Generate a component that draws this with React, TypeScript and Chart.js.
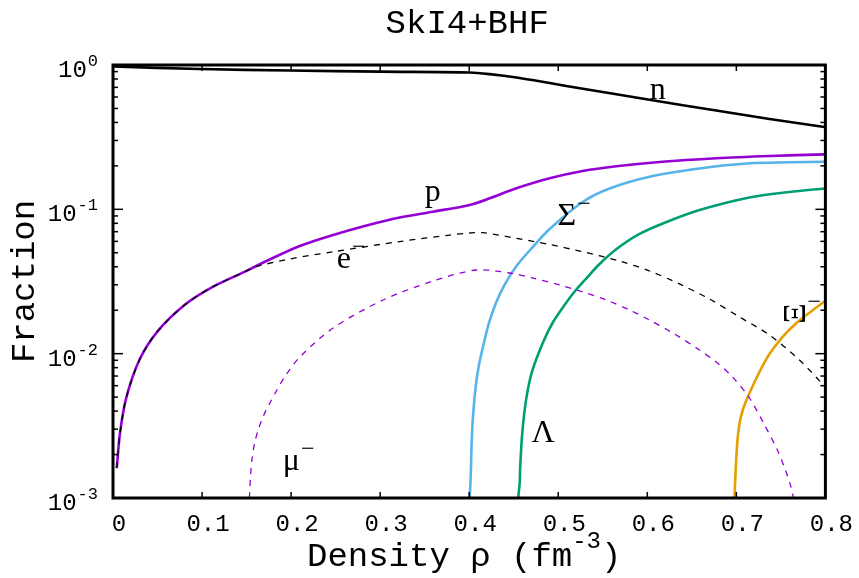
import React, { useEffect, useRef } from 'react';
import { Chart, registerables } from 'chart.js';

Chart.register(...registerables);

// ---- data (density rho in fm^-3, particle fraction) ----
const nRho = [0, 0.0976, 0.1986, 0.2996, 0.4006, 0.423, 0.453, 0.4903, 0.5277, 0.5652, 0.6025, 0.6774, 0.7372, 0.7989];
const nFrac = [0.976, 0.938, 0.916, 0.899, 0.887, 0.864, 0.819, 0.75, 0.684, 0.627, 0.574, 0.484, 0.4225, 0.3718];

const pRho = [0.0042, 0.008, 0.015, 0.03, 0.05, 0.08, 0.11, 0.15, 0.1574, 0.1818, 0.2098, 0.2435, 0.2847, 0.322, 0.3594, 0.4006, 0.423, 0.453, 0.4903, 0.5274, 0.5652, 0.6137, 0.6774, 0.7372, 0.7989];
const pFrac = [0.00161, 0.00286, 0.00498, 0.00914, 0.01428, 0.02167, 0.0286, 0.03743, 0.03953, 0.04673, 0.05568, 0.06537, 0.07727, 0.08778, 0.09632, 0.1072, 0.1192, 0.1399, 0.1641, 0.1844, 0.199, 0.2129, 0.2259, 0.2342, 0.2405];

const eRho = [0.0042, 0.008, 0.015, 0.03, 0.05, 0.08, 0.11, 0.15, 0.1612, 0.1986, 0.2472, 0.322, 0.3781, 0.4006, 0.4155, 0.453, 0.4903, 0.5277, 0.5689, 0.6025, 0.6362, 0.6698, 0.7035, 0.7372, 0.7708, 0.8];
const eFrac = [0.00161, 0.00286, 0.00498, 0.00914, 0.01428, 0.02167, 0.0286, 0.03743, 0.04018, 0.04529, 0.05081, 0.0598, 0.06637, 0.06855, 0.06888, 0.06298, 0.05703, 0.05081, 0.04382, 0.0374, 0.03041, 0.02392, 0.01795, 0.01347, 0.00904, 0.00587];

const muRho = [0.1532, 0.1543, 0.156, 0.1593, 0.1638, 0.1694, 0.1762, 0.184, 0.1941, 0.2098, 0.2472, 0.3033, 0.3594, 0.4081, 0.4454, 0.4716, 0.5015, 0.5277, 0.5539, 0.5801, 0.6025, 0.6306, 0.6586, 0.6774, 0.6957, 0.7147, 0.7316, 0.7461, 0.7551, 0.7607, 0.7641];
const muFrac = [0.001, 0.001376, 0.001833, 0.002443, 0.003055, 0.003758, 0.00455, 0.0056, 0.00711, 0.00948, 0.01507, 0.02355, 0.03188, 0.038, 0.03622, 0.03343, 0.02991, 0.02675, 0.02355, 0.02006, 0.01709, 0.01368, 0.0106, 0.00875, 0.00689, 0.00493, 0.00321, 0.00215, 0.00156, 0.00123, 0.001];

const sigRho = [0.4006, 0.4017, 0.4028, 0.4045, 0.4073, 0.4107, 0.4155, 0.4219, 0.4297, 0.4398, 0.4533, 0.4716, 0.4903, 0.5274, 0.5576, 0.6025, 0.6586, 0.7147, 0.7596, 0.7989];
const sigFrac = [0.001, 0.00142, 0.002466, 0.003848, 0.005923, 0.008184, 0.01117, 0.01608, 0.02219, 0.03004, 0.04062, 0.05498, 0.0731, 0.1124, 0.1394, 0.1683, 0.1918, 0.2084, 0.2117, 0.2138];

const lamRho = [0.455, 0.4567, 0.4572, 0.4595, 0.464, 0.4707, 0.483, 0.4942, 0.5071, 0.5189, 0.5318, 0.5464, 0.5655, 0.5913, 0.6216, 0.6587, 0.7147, 0.7596, 0.7989];
const lamFrac = [0.001, 0.001272, 0.0016, 0.00278, 0.00484, 0.00756, 0.012, 0.01657, 0.02174, 0.02717, 0.0334, 0.0418, 0.0531, 0.0675, 0.0817, 0.0989, 0.1208, 0.1318, 0.1394];

const xiRho = [0.6979, 0.699, 0.7001, 0.7018, 0.7041, 0.7072, 0.7114, 0.7158, 0.7215, 0.7282, 0.7372, 0.7517, 0.7675, 0.7832, 0.7989];
const xiFrac = [0.001, 0.001443, 0.001985, 0.002731, 0.003415, 0.004071, 0.004774, 0.005511, 0.006569, 0.007954, 0.009947, 0.01304, 0.01632, 0.01944, 0.02298];

// ---- tick labels ----
const yTickValues = [1, 0.1, 0.01, 0.001];
const yTickExponents = ['0', '-1', '-2', '-3'];

// ---- curve labels (anchor in data coordinates) ----
const curveLabels = [
  { text: 'n', sup: '', x: 0.6027, y: 0.581, rotate: false },
  { text: 'p', sup: '', x: 0.35, y: 0.1142, rotate: false },
  { text: 'e', sup: '\u2212', x: 0.2513, y: 0.0392, rotate: false },
  { text: '\u03A3', sup: '\u2212', x: 0.4993, y: 0.0778, rotate: false },
  { text: '\u03BC', sup: '\u2212', x: 0.1907, y: 0.00156, rotate: false },
  { text: '\u039B', sup: '', x: 0.4701, y: 0.00244, rotate: false },
  { text: '\u039E', sup: '\u2212', x: 0.7675, y: 0.019, rotate: true },
];

const PURPLE = '#9400D3';
const BLUE = '#56B4E9';
const GREEN = '#009E73';
const ORANGE = '#E69F00';
const MONO = '"Liberation Mono", "DejaVu Sans Mono", monospace';
const SERIF = '"Liberation Serif", "DejaVu Serif", serif';

const pts = (xs: number[], ys: number[]) => xs.map((x, i) => ({ x, y: ys[i] }));

const decorPlugin = {
  id: 'decor',
  afterDatasetsDraw(chart: any) {
    const { ctx, chartArea: a, scales } = chart;
    const xs = scales.x;
    const ys = scales.y;
    ctx.save();
    ctx.strokeStyle = '#000';
    ctx.fillStyle = '#000';
    const seg = (x1: number, y1: number, x2: number, y2: number) => {
      ctx.beginPath();
      ctx.moveTo(x1, y1);
      ctx.lineTo(x2, y2);
      ctx.stroke();
    };
    // inward x ticks
    ctx.lineWidth = 1.5;
    for (const t of xs.ticks) {
      const px = xs.getPixelForValue(t.value);
      if (px <= a.left + 1 || px >= a.right - 1) continue;
      seg(px, a.bottom, px, a.bottom - 6);
      seg(px, a.top, px, a.top + 6);
    }
    // inward y ticks (log)
    for (let k = -3; k <= 0; k++) {
      for (let m = 1; m <= 9; m++) {
        const v = m * Math.pow(10, k);
        if (v > 1.0000001) break;
        const py = ys.getPixelForValue(v);
        const len = m === 1 ? 10 : 5;
        seg(a.left, py, a.left + len, py);
        seg(a.right, py, a.right - len, py);
      }
    }
    // frame
    ctx.lineWidth = 3;
    ctx.strokeRect(a.left, a.top, a.right - a.left, a.bottom - a.top);

    // y tick labels with superscripts
    ctx.textBaseline = 'alphabetic';
    ctx.textAlign = 'right';
    yTickValues.forEach((v, i) => {
      const py = ys.getPixelForValue(v);
      const right = a.left - 15;
      ctx.font = `17px ${MONO}`;
      const ew = ctx.measureText(yTickExponents[i]).width;
      ctx.fillText(yTickExponents[i], right, py + 1);
      ctx.font = `24px ${MONO}`;
      ctx.fillText('10', right - ew - 1, py + 12);
    });

    // curve labels
    ctx.textAlign = 'left';
    for (const l of curveLabels) {
      const px = xs.getPixelForValue(l.x);
      const py = ys.getPixelForValue(l.y);
      ctx.font = `32px ${SERIF}`;
      if (l.rotate) {
        ctx.save();
        ctx.translate(px, py);
        ctx.rotate(-Math.PI / 2);
        ctx.textAlign = 'center';
        ctx.textBaseline = 'middle';
        ctx.fillText(l.text, 0, 0);
        ctx.restore();
        if (l.sup) {
          ctx.font = `24px ${SERIF}`;
          ctx.textAlign = 'left';
          ctx.textBaseline = 'alphabetic';
          ctx.fillText(l.sup, px + 11, py - 4);
        }
      } else {
        ctx.textBaseline = 'alphabetic';
        const w = ctx.measureText(l.text).width;
        ctx.fillText(l.text, px, py);
        if (l.sup) {
          ctx.font = `24px ${SERIF}`;
          ctx.fillText(l.sup, px + w + 1, py - 14);
        }
      }
    }

    // chart title
    ctx.textAlign = 'center';
    ctx.textBaseline = 'alphabetic';
    ctx.font = `34px ${MONO}`;
    ctx.fillText('SkI4+BHF', (a.left + a.right) / 2 - 2, 33);

    // y axis title
    ctx.save();
    ctx.translate(34, (a.top + a.bottom) / 2);
    ctx.rotate(-Math.PI / 2);
    ctx.fillText('Fraction', 0, 0);
    ctx.restore();

    // x axis title with superscript
    const main1 = 'Density \u03C1 (fm';
    const supT = '-3';
    const main2 = ')';
    ctx.font = `34px ${MONO}`;
    const w1 = ctx.measureText(main1).width;
    const w3 = ctx.measureText(main2).width;
    ctx.font = `24px ${MONO}`;
    const w2 = ctx.measureText(supT).width;
    const total = w1 + w2 + w3;
    const sx = (a.left + a.right) / 2 - 5 - total / 2;
    const base = 566;
    ctx.textAlign = 'left';
    ctx.font = `34px ${MONO}`;
    ctx.fillText(main1, sx, base);
    ctx.font = `24px ${MONO}`;
    ctx.fillText(supT, sx + w1, base - 18);
    ctx.font = `34px ${MONO}`;
    ctx.fillText(main2, sx + w1 + w2, base);

    ctx.restore();
  },
};

export default function App() {
  const ref = useRef<HTMLCanvasElement | null>(null);
  useEffect(() => {
    document.body.style.margin = '0';
    const canvas = ref.current;
    if (!canvas) return;
    const solid = (label: string, xs: number[], ys: number[], color: string) => ({
      label,
      data: pts(xs, ys),
      borderColor: color,
      backgroundColor: color,
      borderWidth: 2.6,
      pointRadius: 0,
      fill: false,
      tension: 0.3,
      order: 1,
    });
    const dashed = (label: string, xs: number[], ys: number[], color: string) => ({
      label,
      data: pts(xs, ys),
      borderColor: color,
      backgroundColor: color,
      borderWidth: 1.3,
      borderDash: [6, 6],
      pointRadius: 0,
      fill: false,
      tension: 0.3,
      order: 0,
    });
    const chart = new Chart(canvas, {
      type: 'line',
      data: {
        datasets: [
          solid('n', nRho, nFrac, '#000000'),
          solid('p', pRho, pFrac, PURPLE),
          dashed('e-', eRho, eFrac, '#000000'),
          dashed('mu-', muRho, muFrac, PURPLE),
          solid('Sigma-', sigRho, sigFrac, BLUE),
          solid('Lambda', lamRho, lamFrac, GREEN),
          solid('Xi-', xiRho, xiFrac, ORANGE),
        ],
      },
      options: {
        responsive: false,
        animation: false,
        layout: { padding: { top: 65, right: 33, left: 0, bottom: 0 } },
        plugins: {
          legend: { display: false },
          tooltip: { enabled: false },
          title: { display: false },
        },
        scales: {
          x: {
            type: 'linear',
            min: 0,
            max: 0.8,
            grid: { display: false, drawTicks: false },
            border: { display: false },
            ticks: {
              stepSize: 0.1,
              padding: 12,
              labelOffset: 6,
              color: '#000',
              font: { family: MONO, size: 24 },
              callback: (v: any) => (Number(v) === 0 ? '0' : Number(v).toFixed(1)),
            },
            afterFit: (s: any) => {
              s.height = 80;
            },
          },
          y: {
            type: 'logarithmic',
            min: 0.001,
            max: 1,
            grid: { display: false, drawTicks: false },
            border: { display: false },
            ticks: { display: false },
            afterFit: (s: any) => {
              s.width = 113;
            },
          },
        },
      },
      plugins: [decorPlugin],
    });
    return () => chart.destroy();
  }, []);
  return (
    <canvas
      ref={ref}
      width={859}
      height={578}
      style={{ display: 'block', width: '859px', height: '578px' }}
    />
  );
}
